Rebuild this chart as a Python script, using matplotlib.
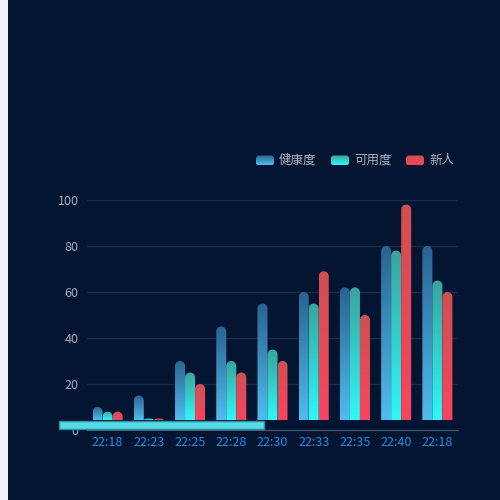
import numpy as np
import matplotlib
matplotlib.use('Agg')
import matplotlib.pyplot as plt
from matplotlib.path import Path
from matplotlib.patches import PathPatch, FancyBboxPatch, Rectangle
from matplotlib.colors import LinearSegmentedColormap

plt.rcParams['font.family'] = ['Noto Sans CJK SC', 'DejaVu Sans']

# data
times = ['22:18', '22:23', '22:25', '22:28', '22:30', '22:33', '22:35', '22:40', '22:18']
health = [10, 15, 30, 45, 55, 60, 62, 80, 80]
usable = [8, 5, 25, 30, 35, 55, 62, 78, 65]
newcomers = [8, 5, 20, 25, 30, 69, 50, 98, 60]
series_names = ['健康度', '可用度', '新人']

BG = '#041531'
# (bottom colour, top colour) per series
gradients = [('#50bdee', '#2a6390'), ('#2ff8f8', '#3aa39c'), ('#f7455e', '#cf5052')]
BAR_W = 0.243
BAR_BASE = 4.3

fig = plt.figure(figsize=(5, 5), dpi=100, facecolor=BG)
ax = fig.add_axes([0.174, 0.14, 0.742, 0.46], facecolor=BG)
ax.set_xlim(-0.5, len(times) - 0.5)
ax.set_ylim(0, 100)

# px per data unit, to get round caps
ax_w_px = 0.742 * 500
ax_h_px = 0.46 * 500
px_x = ax_w_px / len(times)
px_y = ax_h_px / 100.0


def bar_path(x0, x1, y0, y1):
    rx = (x1 - x0) / 2
    ry = min(rx * px_x / px_y, y1 - y0)
    cx = (x0 + x1) / 2
    t = np.linspace(np.pi, 0, 24)
    verts = [(x0, y0)] + list(zip(cx + rx * np.cos(t), y1 - ry + ry * np.sin(t))) + [(x1, y0), (x0, y0)]
    codes = [Path.MOVETO] + [Path.LINETO] * (len(verts) - 2) + [Path.CLOSEPOLY]
    return Path(verts, codes)


grad = np.linspace(0, 1, 256).reshape(-1, 1)
for s, values in enumerate([health, usable, newcomers]):
    cmap = LinearSegmentedColormap.from_list('g%d' % s, gradients[s])
    for i, v in enumerate(values):
        x0 = i + (s - 1.5) * BAR_W
        x1 = x0 + BAR_W
        patch = PathPatch(bar_path(x0, x1, BAR_BASE, v), facecolor='none', edgecolor='none',
                          transform=ax.transData)
        ax.add_patch(patch)
        im = ax.imshow(grad, extent=(x0, x1, BAR_BASE, v), origin='lower', aspect='auto',
                       cmap=cmap, zorder=3)
        im.set_clip_path(patch)

ax.set_xlim(-0.5, len(times) - 0.5)
ax.set_ylim(0, 100)
ax.set_xticks(range(len(times)))
ax.set_xticklabels(times)
ax.set_yticks([0, 20, 40, 60, 80, 100])
ax.tick_params(axis='x', length=0, pad=4, colors='#1f8fe8', labelsize=9)
ax.tick_params(axis='y', length=0, pad=6, colors='#a2a9b7', labelsize=9)
ax.grid(axis='y', color='#1a2a4a', linewidth=1)
ax.set_axisbelow(True)
for side in ['top', 'right', 'left']:
    ax.spines[side].set_visible(False)
ax.spines['bottom'].set_color('#4d5870')

# overlay in pixel coordinates for legend and decorations
ov = fig.add_axes([0, 0, 1, 1], facecolor='none', zorder=10)
ov.set_xlim(0, 500)
ov.set_ylim(500, 0)
ov.axis('off')
ov.add_patch(Rectangle((0, 0), 8, 500, facecolor='#eff2f7', edgecolor='none'))
ov.add_patch(Rectangle((59, 421), 205, 8, facecolor='#55dbe6', edgecolor='#2b8d9e', linewidth=1))

legend_x = [256, 331, 406]
for s, name in enumerate(series_names):
    lx = legend_x[s]
    box = FancyBboxPatch((lx, 155.5), 18, 10, boxstyle='round,pad=0,rounding_size=3',
                         facecolor='none', edgecolor='none')
    ov.add_patch(box)
    cmap = LinearSegmentedColormap.from_list('l%d' % s, gradients[s])
    im = ov.imshow(grad, extent=(lx, lx + 18, 165.5, 155.5), origin='lower', aspect='auto', cmap=cmap)
    im.set_clip_path(box)
    ov.text(lx + 23, 160.5, name, color='#aab2c0', fontsize=9, va='center', ha='left')
ov.set_xlim(0, 500)
ov.set_ylim(500, 0)

fig.savefig('out.png', dpi=100, facecolor=BG)
